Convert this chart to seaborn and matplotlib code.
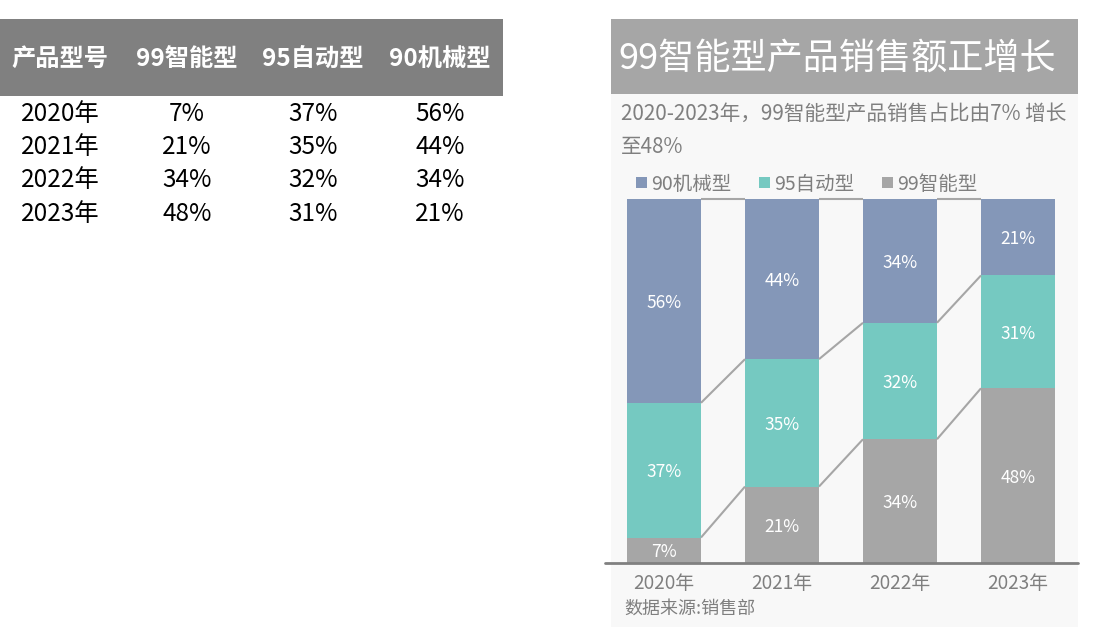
import matplotlib
matplotlib.use("Agg")
import matplotlib.pyplot as plt
from matplotlib.patches import Rectangle
import seaborn as sns
import numpy as np

sns.set_theme(style="white")
plt.rcParams['font.family'] = ['Noto Sans CJK SC', 'DejaVu Sans']

# ---- data ----
years = ["2020年", "2021年", "2022年", "2023年"]
series_names = ["99智能型", "95自动型", "90机械型"]
smart99 = [7, 21, 34, 48]
auto95 = [37, 35, 32, 31]
mech90 = [56, 44, 34, 21]
header = ["产品型号", "99智能型", "95自动型", "90机械型"]
title = "99智能型产品销售额正增长"
subtitle = ["2020-2023年，99智能型产品销售占比由7% 增长", "至48%"]
source = "数据来源:销售部"

colors = {"99智能型": "#a6a6a6", "95自动型": "#75c9c1", "90机械型": "#8497b8"}

W, H = 1112, 627
fig = plt.figure(figsize=(W / 100, H / 100), dpi=100)
fig.patch.set_facecolor("white")

def fx(px):
    return px / W

def fy(py):
    return 1 - py / H

def bg_rect(x0, y0, x1, y1, color, z=-2):
    r = Rectangle((fx(x0), fy(y1)), (x1 - x0) / W, (y1 - y0) / H,
                  transform=fig.transFigure, color=color, zorder=z, lw=0)
    fig.add_artist(r)
    return r

# ---- left table ----
bg_rect(0, 19, 503, 96, "#808080")
col_x = [60, 187, 313, 440]
for cx, t in zip(col_x, header):
    fig.text(fx(cx), fy(59), t, ha="center", va="center", color="white",
             fontsize=17.5, fontweight="bold")
row_y = [114, 147, 180, 214]
for i, ry in enumerate(row_y):
    vals = [years[i], f"{smart99[i]}%", f"{auto95[i]}%", f"{mech90[i]}%"]
    for cx, v in zip(col_x, vals):
        fig.text(fx(cx), fy(ry), v, ha="center", va="center", color="black",
                 fontsize=17.5)

# ---- right panel ----
bg_rect(611, 19, 1078, 627, "#f8f8f8")
bg_rect(611, 19, 1078, 94, "#a6a6a6", z=-1)
fig.text(fx(618), fy(59), title, ha="left", va="center", color="white", fontsize=26)
fig.text(fx(621), fy(114), subtitle[0], ha="left", va="center", color="#7f7f7f", fontsize=14.9)
fig.text(fx(621), fy(147), subtitle[1], ha="left", va="center", color="#7f7f7f", fontsize=14.9)

# legend
leg_items = [("90机械型", 636), ("95自动型", 759), ("99智能型", 882)]
for name, lx in leg_items:
    bg_rect(lx, 177, lx + 11, 188, colors[name], z=1)
    fig.text(fx(lx + 15), fy(184), name, ha="left", va="center", color="#7f7f7f", fontsize=14)

# ---- stacked bar chart ----
ax_left, ax_right = 605, 1078
ax_bottom, ax_top = 563, 199
ax = fig.add_axes([fx(ax_left), fy(ax_bottom), (ax_right - ax_left) / W, (ax_bottom - ax_top) / H])
ax.set_zorder(1)
ax.set_facecolor("none")

s1 = np.array(smart99) / 100
s2 = np.array(auto95) / 100
s3 = np.array(mech90) / 100
width = 74 / 118

sns.barplot(x=years, y=s1, color=colors["99智能型"], width=width, ax=ax,
            saturation=1, linewidth=0)
sns.barplot(x=years, y=s2, bottom=s1, color=colors["95自动型"], width=width, ax=ax,
            saturation=1, linewidth=0)
sns.barplot(x=years, y=s3, bottom=s1 + s2, color=colors["90机械型"], width=width, ax=ax,
            saturation=1, linewidth=0)

x = np.arange(len(years))
# connector lines
for level in [s1, s1 + s2, s1 + s2 + s3]:
    for i in range(len(years) - 1):
        ax.plot([x[i] + width / 2, x[i + 1] - width / 2], [level[i], level[i + 1]],
                color="#a6a6a6", lw=1.5, solid_capstyle="butt", zorder=3, clip_on=False)

# data labels
dy = -2 / (ax_bottom - ax_top)
for vals, bottoms in [(s1, np.zeros(4)), (s2, s1), (s3, s1 + s2)]:
    for i in range(len(years)):
        ax.text(x[i], bottoms[i] + vals[i] / 2 + dy, f"{round(vals[i] * 100)}%",
                ha="center", va="center", color="white", fontsize=12.5, zorder=4)

ax.set_xlim(-(664 - ax_left) / 118, 3 + (ax_right - 1018) / 118)
ax.set_ylim(0, 1)
for sp in ax.spines.values():
    sp.set_visible(False)
ax.axhline(0, color="#808080", lw=2, zorder=5, clip_on=False)
ax.set_yticks([])
ax.set_xlabel("")
ax.set_ylabel("")
ax.tick_params(axis="x", length=0, pad=7, labelsize=13.6, labelcolor="#7f7f7f")

fig.text(fx(624), fy(609), source, ha="left", va="center", color="#7f7f7f", fontsize=13)

fig.savefig("out.png", dpi=100)
